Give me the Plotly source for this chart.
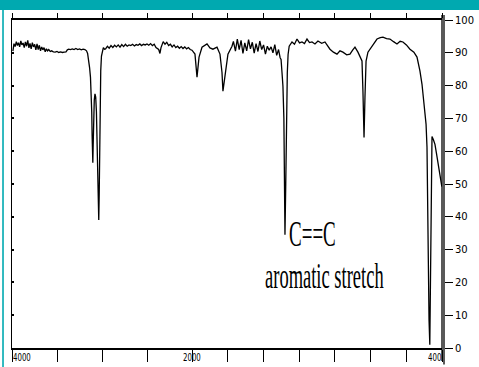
import plotly.graph_objects as go

# IR spectrum (wavenumber in cm-1, transmittance in %)
wavenumber = [
    3990, 3978, 3965, 3952, 3940, 3928, 3915, 3902, 3890, 3877, 3864, 3851, 3838, 3825,
    3812, 3800, 3787, 3774, 3761, 3748, 3735, 3722, 3709, 3696, 3683, 3670, 3657, 3644,
    3631, 3618, 3605, 3592, 3575, 3560, 3540, 3520, 3500, 3480, 3460, 3440, 3420, 3400,
    3385, 3370, 3350, 3330, 3310, 3290, 3270, 3250, 3230, 3210, 3190, 3172, 3160, 3148,
    3138, 3128, 3120, 3114, 3110, 3106, 3102, 3098, 3093, 3086, 3078, 3070, 3062, 3055,
    3048, 3042, 3036, 3031, 3026, 3020, 3014, 3006, 2996, 2985, 2972,
    2960, 2940, 2920, 2900, 2880, 2860, 2840, 2820, 2800, 2780, 2760, 2740, 2720, 2700,
    2680, 2660, 2640, 2620, 2600, 2580, 2560, 2540, 2520, 2500, 2480, 2460, 2440, 2420,
    2400, 2370, 2356, 2345, 2320, 2300, 2280, 2260, 2240, 2220, 2200, 2180, 2160, 2140,
    2120, 2100, 2080, 2060, 2040, 2020, 2000,
    1981, 1968, 1955, 1936, 1904, 1885, 1866, 1840, 1821, 1808, 1802, 1789, 1770, 1744,
    1735, 1722, 1710, 1698, 1686, 1674, 1662, 1650, 1638, 1626, 1614, 1602, 1590, 1578,
    1566, 1554, 1542, 1530, 1518, 1506, 1494, 1482, 1470, 1458, 1446, 1436,
    1430, 1424, 1418, 1412, 1408, 1405, 1400, 1396, 1390, 1385, 1378,
    1360, 1344, 1328, 1312, 1296, 1280, 1264, 1248, 1232, 1213, 1194, 1170, 1149, 1130,
    1117, 1095, 1072, 1053, 1034, 1010, 989, 972, 957, 938, 920, 912, 906, 899, 893, 886,
    874, 848, 816, 795, 778, 755, 733, 710, 688, 668, 650, 628, 605, 580, 560, 541, 528,
    515, 502, 496, 490, 483, 478, 474, 470, 466, 464, 455, 445, 436, 426, 416, 406, 401,
]
transmittance = [
    90.5, 92.8, 91.9, 93.4, 92.2, 93.1, 91.8, 93.6, 92.4, 93.0, 91.6, 93.3, 92.0, 93.8,
    91.5, 92.9, 91.2, 93.1, 91.8, 92.6, 90.9, 92.7, 91.0, 92.3, 90.6, 91.8, 90.9, 91.6,
    90.3, 91.2, 90.6, 91.0, 90.4, 90.6, 90.3, 90.2, 90.4, 90.1, 90.3, 90.1, 90.2, 90.3,
    90.9, 91.1, 91.0, 91.2, 91.0, 91.3, 91.0, 91.2, 90.9, 91.1, 91.0, 90.6, 89.8, 88.0,
    85.5, 82.5, 78.5, 72.0, 65.0, 59.0, 56.5, 62.0, 70.0, 75.5, 77.5, 76.5, 72.0, 64.0,
    54.0, 46.0, 39.0, 47.0, 62.0, 76.0, 84.5, 89.0, 91.0, 91.6, 91.1,
    91.2, 92.0, 91.4, 92.2, 91.6, 92.3, 91.8, 92.4, 91.7, 92.5, 91.9, 92.6, 92.0, 92.4,
    92.2, 92.6, 92.1, 92.5, 92.3, 92.7, 92.2, 92.6, 92.4, 92.7, 92.3, 92.8, 92.2, 92.6,
    91.6, 91.0, 89.8, 91.5, 93.4, 92.6, 93.2, 92.2, 92.6, 91.8, 92.4, 91.6, 92.0, 91.4,
    91.9, 91.3, 91.8, 91.2, 91.6, 91.0, 90.8,
    89.6, 82.6, 88.7, 91.7, 92.7, 91.5, 91.1, 91.7, 89.6, 84.0, 78.3, 83.5, 89.6, 92.0,
    93.5, 90.5, 94.2, 91.0, 93.8, 89.8, 93.0, 90.6, 94.0, 91.2, 93.2, 89.9, 92.8, 90.4,
    93.6, 91.0, 92.4, 89.6, 92.0, 90.8, 91.8, 90.0, 92.5, 89.2, 91.0, 88.5,
    88.0, 84.0, 79.8, 70.0, 50.0, 34.5, 50.0, 70.0, 84.0, 89.5, 92.0,
    93.3, 92.6, 94.2, 93.0, 93.3, 92.8, 94.2, 93.1, 93.3, 92.7, 93.6, 92.9, 93.3, 92.2,
    91.1, 90.2, 89.6, 90.6, 90.2, 89.4, 89.6, 90.8, 91.7, 90.2, 88.6, 87.5, 78.3, 64.2, 76.5, 87.5,
    90.2, 92.0, 94.2, 94.6, 94.8, 94.3, 94.2, 93.4, 92.7, 93.5, 93.3, 92.4, 91.1, 90.2, 88.7, 84.4, 80.4,
    74.3, 68.2, 61.2, 33.0, 8.6, 1.0, 20.0, 34.6, 50.0, 64.5, 63.5, 62.1, 59.5, 56.6, 53.0, 49.8, 49.2,
]

tick_wn = [4000, 3500, 3000, 2500, 2000, 1771.43, 1542.86, 1314.29, 1085.71, 857.14, 628.57, 400]
label_wn = [4000, 2000, 400]
label_txt = ["4000", "2000", "400"]
label_anchor = ["left", "center", "right"]
y_ticks = [0, 10, 20, 30, 40, 50, 60, 70, 80, 90, 100]
note_main = "C==C"
note_sub = "aromatic stretch"
note_wn = [1232, 1150]
note_t = [35, 22]

TEAL = "#00a9b0"


def pos(w):
    # two-scale IR axis: 4000-2000 compressed, 2000-400 expanded
    if w >= 2000:
        return (4000 - w) * 0.09
    return 180 + (2000 - w) * 250 / 1600


xs = [pos(w) for w in wavenumber]
tick_pos = [pos(w) for w in tick_wn]
xdom_end = 430 / 432

fig = go.Figure()
fig.add_trace(go.Scatter(
    x=xs, y=transmittance, mode="lines",
    line=dict(color="black", width=1.3),
    hoverinfo="skip", showlegend=False,
))
# empty traces so the mirrored top axis and the labelled right axis are drawn
fig.add_trace(go.Scatter(x=[], y=[], xaxis="x2", yaxis="y", mode="lines",
                         hoverinfo="skip", showlegend=False))
fig.add_trace(go.Scatter(x=[], y=[], xaxis="x", yaxis="y2", mode="lines",
                         hoverinfo="skip", showlegend=False))

fig.update_layout(
    width=479, height=367,
    margin=dict(l=12, r=35, t=20, b=19, autoexpand=False),
    paper_bgcolor="white", plot_bgcolor="white",
    showlegend=False,
    xaxis=dict(
        domain=[0, xdom_end], range=[0, 430], autorange=False, automargin=False,
        showgrid=False, zeroline=False,
        showline=True, linecolor="black", linewidth=2,
        ticks="outside", ticklen=12, tickwidth=1.3, tickcolor="black",
        tickvals=tick_pos, showticklabels=False,
    ),
    xaxis2=dict(
        overlaying="x", matches="x", side="top", anchor="y", automargin=False,
        showgrid=False, zeroline=False,
        showline=True, linecolor="black", linewidth=1.5,
        ticks="outside", ticklen=5, tickwidth=1.2, tickcolor="black",
        tickvals=tick_pos, showticklabels=False,
    ),
    yaxis=dict(
        range=[0, 100], autorange=False, automargin=False,
        showgrid=False, zeroline=False,
        showline=True, linecolor="black", linewidth=1.2,
        ticks="inside", ticklen=2, tickwidth=1.5, tickcolor="black",
        tickvals=y_ticks, showticklabels=False,
    ),
    yaxis2=dict(
        overlaying="y", matches="y", side="right", anchor="free", position=1,
        automargin=False,
        showgrid=False, zeroline=False, showline=False,
        ticks="outside", ticklen=8, tickwidth=1.2, tickcolor="black",
        tickvals=y_ticks, ticktext=[str(v) for v in y_ticks],
        tickfont=dict(family="DejaVu Sans", size=10, color="black"),
    ),
)

shapes = [
    # teal banner and left teal rule
    dict(type="rect", xref="paper", yref="paper", x0=-0.05, x1=1.12, y0=1.0305, y1=1.08,
         fillcolor=TEAL, line=dict(width=0), layer="above"),
    dict(type="line", xref="paper", yref="paper", x0=-0.0208, x1=-0.0208, y0=-0.08, y1=1.04,
         line=dict(color=TEAL, width=1.6)),
    # double right frame lines
    dict(type="line", xref="paper", yref="paper", x0=xdom_end, x1=xdom_end, y0=-0.04, y1=1.015,
         line=dict(color="black", width=1.3)),
    dict(type="line", xref="paper", yref="paper", x0=1, x1=1, y0=-0.05, y1=1.015,
         line=dict(color="black", width=1.3)),
]
fig.update_layout(shapes=shapes)

annotations = []
for w, t, a in zip(label_wn, label_txt, label_anchor):
    annotations.append(dict(
        x=pos(w), y=-0.031, xref="x", yref="paper", text=t, showarrow=False,
        xanchor=a, yanchor="middle", borderpad=0,
        font=dict(family="DejaVu Sans", size=7, color="black"),
    ))
annotations.append(dict(
    x=pos(note_wn[0]), y=note_t[0], xref="x", yref="y", text=note_main, showarrow=False,
    xanchor="center", yanchor="middle",
    font=dict(family="Liberation Serif", size=19, color="black"),
))
annotations.append(dict(
    x=pos(note_wn[1]), y=note_t[1], xref="x", yref="y", text=note_sub, showarrow=False,
    xanchor="center", yanchor="middle",
    font=dict(family="Liberation Serif", size=18.5, color="black"),
))
fig.update_layout(annotations=annotations)

post = """
document.documentElement.style.margin = '0';
document.body.style.margin = '0';
document.body.style.padding = '0';
document.querySelectorAll('text.annotation-text').forEach(function(t){
  var s = t.textContent || '';
  var k = (s.indexOf('C') >= 0 || s.indexOf('aromatic') >= 0) ? 1.9 : 1.4;
  t.style.transformBox = 'fill-box';
  t.style.transformOrigin = 'center';
  t.style.transform = 'scaleY(' + k + ')';
});
"""

fig.write_html("out.html", post_script=post, config={"displayModeBar": False})
